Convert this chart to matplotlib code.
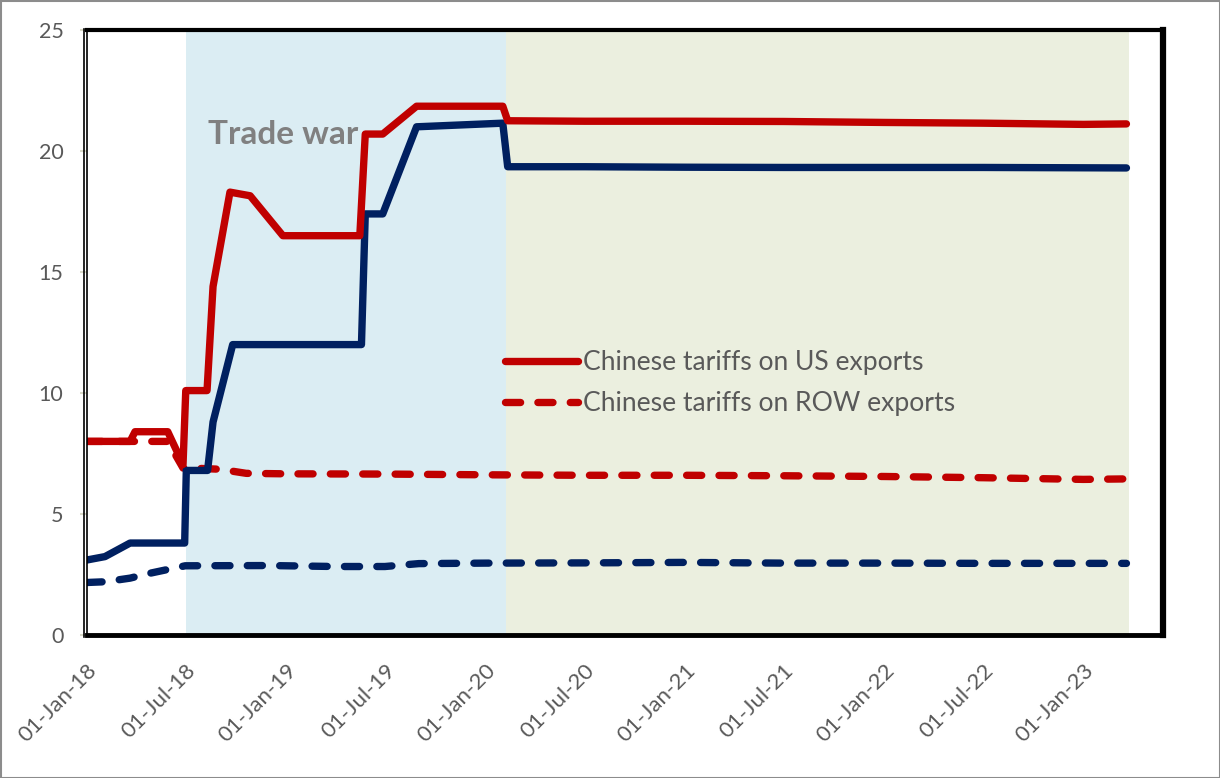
import matplotlib
matplotlib.use("Agg")
import matplotlib.pyplot as plt
import matplotlib.dates as mdates
from matplotlib.lines import Line2D
from matplotlib.patches import Rectangle
import pandas as pd

plt.rcParams['font.family'] = ['Lato', 'DejaVu Sans']

# --- data ---
us_solid_dates = ["2018-01-01", "2018-02-03", "2018-03-21", "2018-06-29", "2018-07-02",
                  "2018-08-10", "2018-08-20", "2018-09-25", "2019-05-19", "2019-05-26",
                  "2019-06-27", "2019-08-28", "2020-02-02", "2020-02-11", "2020-07-01",
                  "2021-01-01", "2021-07-01", "2022-01-01", "2022-07-01", "2023-03-21"]
us_solid_vals = [3.1, 3.24, 3.8, 3.8, 6.8,
                 6.8, 8.8, 12.0, 12.0, 17.4,
                 17.4, 21.0, 21.15, 19.35, 19.35,
                 19.33, 19.32, 19.32, 19.32, 19.3]

cn_us_dates = ["2018-01-01", "2018-03-21", "2018-03-30", "2018-05-29", "2018-06-26",
               "2018-07-01", "2018-08-09", "2018-08-20", "2018-09-20", "2018-10-27",
               "2018-12-26", "2019-05-16", "2019-05-26", "2019-06-27", "2019-08-28",
               "2020-02-02", "2020-02-11", "2020-07-01", "2021-01-01", "2021-07-01",
               "2022-01-01", "2022-07-01", "2023-01-01", "2023-03-21"]
cn_us_vals = [8.0, 8.0, 8.4, 8.4, 7.05,
              10.1, 10.1, 14.4, 18.3, 18.15,
              16.5, 16.5, 20.7, 20.7, 21.85,
              21.85, 21.25, 21.23, 21.23, 21.22,
              21.18, 21.15, 21.1, 21.12]

cn_row_dates = ["2018-01-01", "2018-03-21", "2018-05-29", "2018-06-26", "2018-07-10",
                "2018-09-01", "2018-10-20", "2019-01-01", "2019-07-01", "2020-01-01",
                "2020-07-01", "2021-01-01", "2021-07-01", "2022-01-01", "2022-07-01",
                "2023-01-01", "2023-03-21"]
cn_row_vals = [8.0, 8.0, 8.0, 6.9, 6.9,
               6.85, 6.68, 6.66, 6.65, 6.62,
               6.6, 6.6, 6.58, 6.55, 6.5,
               6.43, 6.45]

us_row_dates = ["2018-01-01", "2018-02-03", "2018-03-21", "2018-04-26", "2018-06-30",
                "2018-12-01", "2019-04-01", "2019-07-01", "2019-09-01", "2020-01-01",
                "2020-07-01", "2021-01-01", "2021-07-01", "2022-01-01", "2022-07-01",
                "2023-01-01", "2023-03-21"]
us_row_vals = [2.17, 2.2, 2.35, 2.55, 2.86,
               2.87, 2.83, 2.83, 2.95, 2.97,
               2.98, 3.0, 2.97, 2.97, 2.96,
               2.96, 2.96]

trade_war_start, trade_war_end = "2018-07-01", "2020-02-08"
post_start, post_end = "2020-02-08", "2023-03-26"

legend_labels = ["Chinese tariffs on US exports", "Chinese tariffs on ROW exports"]
tick_dates = pd.date_range("2018-01-01", "2023-01-01", freq="6MS")

RED = "#C00000"
NAVY = "#002060"
TXT = "#595959"
LW = 5.3

fig = plt.figure(figsize=(12.2, 7.78), dpi=100)
ax = fig.add_axes([87/1220, 1-635/778, (1163-87)/1220, (635-30)/778])

ax.axvspan(pd.Timestamp(trade_war_start), pd.Timestamp(trade_war_end), color="#DBEDF3", lw=0, zorder=0)
ax.axvspan(pd.Timestamp(post_start), pd.Timestamp(post_end), color="#EBEFDF", lw=0, zorder=0)

dash = (0, (2.05, 2.35))
ax.plot(pd.to_datetime(us_row_dates), us_row_vals, color=NAVY, lw=LW, ls=dash,
        dash_capstyle="round", solid_joinstyle="round", zorder=3)
ax.plot(pd.to_datetime(us_solid_dates), us_solid_vals, color=NAVY, lw=LW,
        solid_capstyle="round", solid_joinstyle="round", zorder=4)
l2, = ax.plot(pd.to_datetime(cn_row_dates), cn_row_vals, color=RED, lw=LW, ls=dash,
              dash_capstyle="round", solid_joinstyle="round", zorder=3, label=legend_labels[1])
l1, = ax.plot(pd.to_datetime(cn_us_dates), cn_us_vals, color=RED, lw=LW,
              solid_capstyle="round", solid_joinstyle="round", zorder=4, label=legend_labels[0])

ax.set_ylim(0, 25)
ax.set_yticks([0, 5, 10, 15, 20, 25])
ax.set_xlim(pd.Timestamp("2018-01-01"), pd.Timestamp("2023-05-27"))
ax.set_xticks(tick_dates)
ax.xaxis.set_major_formatter(mdates.DateFormatter("%d-%b-%y"))
ax.tick_params(axis="x", length=0, pad=18, labelsize=16, labelcolor=TXT)
ax.tick_params(axis="y", length=5, width=1.5, color="#D9D9C8", pad=12, labelsize=15.5, labelcolor=TXT)
for lab in ax.get_xticklabels():
    lab.set_rotation(45)
    lab.set_ha("right")
    lab.set_rotation_mode("anchor")

ax.spines["top"].set_linewidth(3)
ax.spines["right"].set_linewidth(4.5)
ax.spines["bottom"].set_linewidth(3.5)
ax.spines["left"].set_linewidth(1.2)
for s in ax.spines.values():
    s.set_color("black")
    s.set_zorder(6)

# double left border line
fig.add_artist(Line2D([83.5/1220, 83.5/1220], [1-637/778, 1-29/778], transform=fig.transFigure,
                      color="black", lw=1.2))

ax.text(0.112, 0.828, "Trade war", transform=ax.transAxes, fontsize=24, fontweight="bold",
        color="#808080", va="center", ha="left", zorder=2)

leg = ax.legend(handles=[l1, l2], loc="upper left", bbox_to_anchor=(0.3885, 0.471),
                frameon=False, fontsize=19.1, labelcolor=TXT, handlelength=2.75,
                handletextpad=0.2, labelspacing=0.6, borderaxespad=0, borderpad=0)

fig.add_artist(Rectangle((0.5/1220, 0.5/778), 1-1/1220, 1-1/778, transform=fig.transFigure,
                         fill=False, edgecolor="#8C8C8C", lw=1.5))

fig.savefig("out.png", dpi=100)
